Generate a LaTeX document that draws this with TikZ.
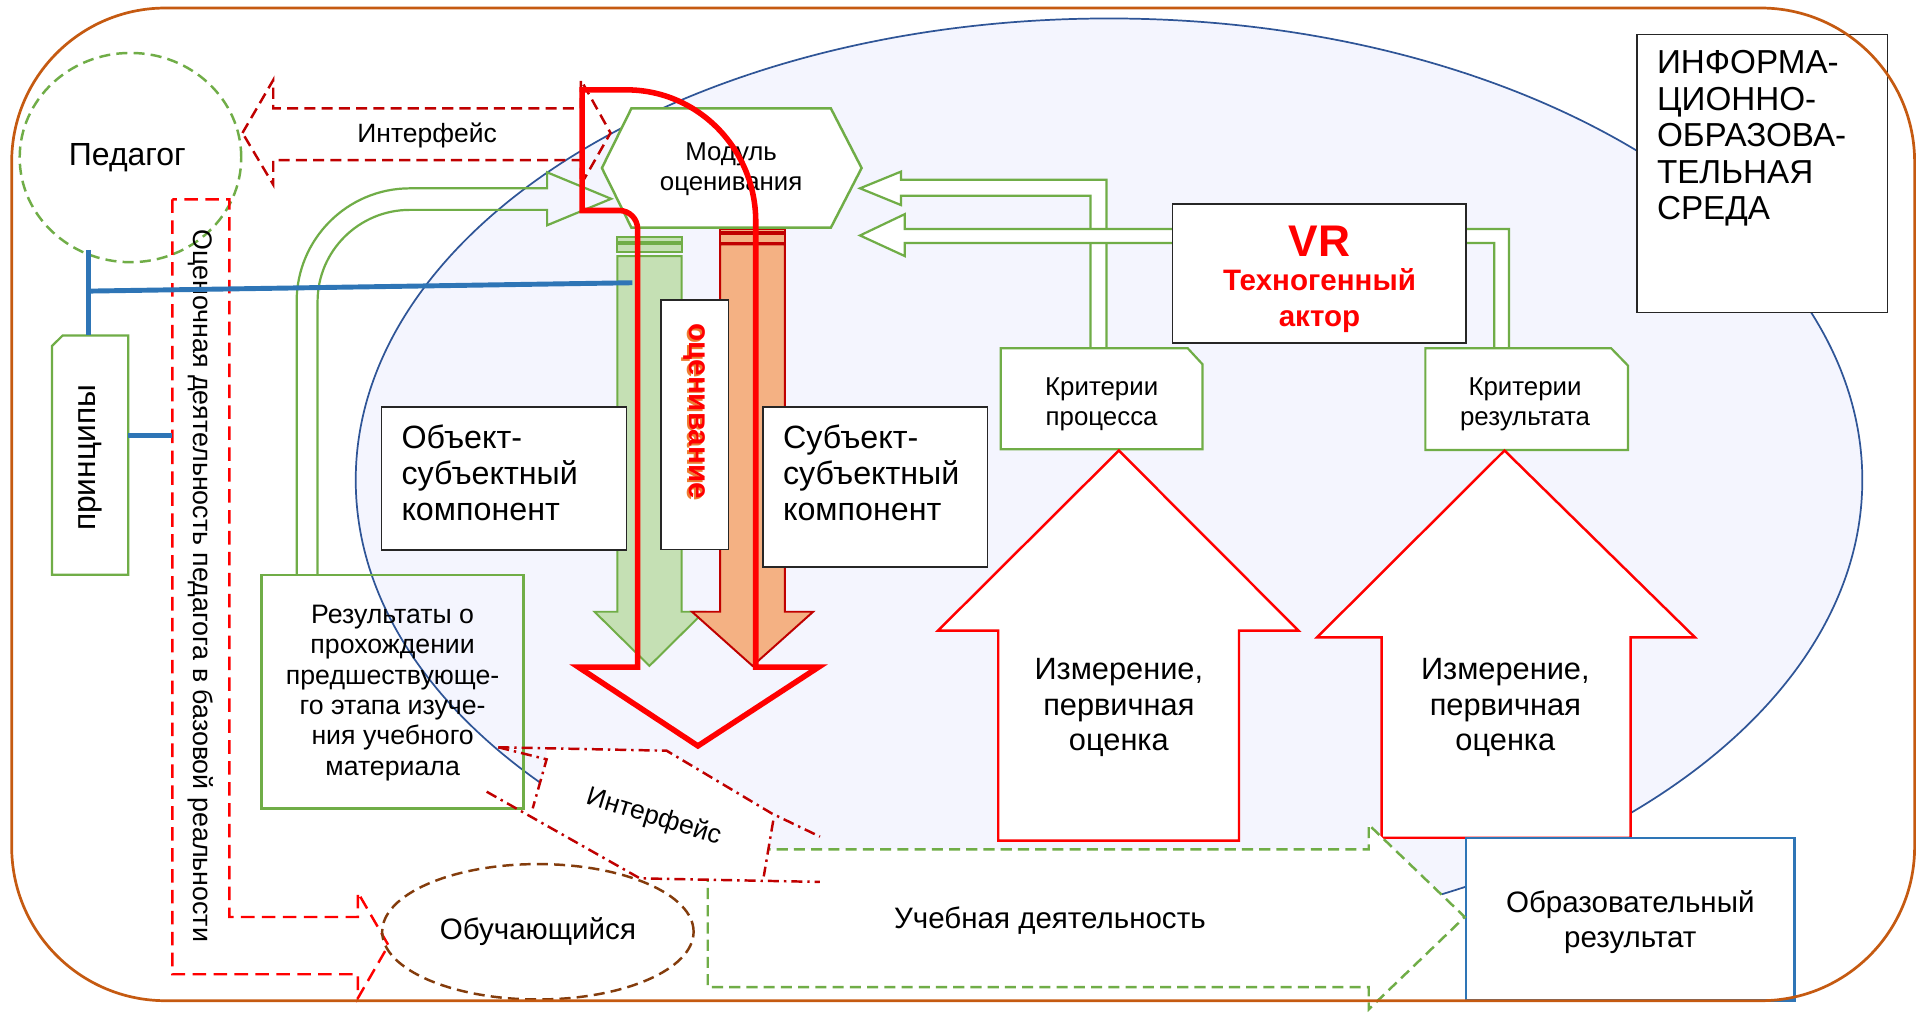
\documentclass[tikz,border=0pt]{standalone}
\usepackage{fontspec}
\setmainfont{Liberation Sans}
\usetikzlibrary{calc,shapes.geometric}
\definecolor{grn}{HTML}{70AD47}
\definecolor{lgrn}{HTML}{C5E0B4}
\definecolor{org}{HTML}{F4B183}
\definecolor{dred}{HTML}{C00000}
\definecolor{bred}{HTML}{FF0000}
\definecolor{bblue}{HTML}{2E75B6}
\definecolor{eblue}{HTML}{2F5597}
\definecolor{lav}{HTML}{F4F5FE}
\definecolor{brn}{HTML}{843C0C}
\definecolor{bord}{HTML}{C55A11}
\definecolor{shad}{HTML}{ED7D31}
\newcommand{\fz}[2]{\fontsize{#1}{#2}\selectfont}
\begin{document}
\begin{tikzpicture}[x=1pt,y=-1pt,line join=miter,
  every node/.style={inner sep=0pt},
  grnline/.style={draw=grn, line width=1.8pt},
  boxk/.style={draw=black!85, line width=1.3pt, fill=white},
  dsh/.style={dash pattern=on 9pt off 5pt},
  ddot/.style={dash pattern=on 9pt off 4pt on 2pt off 4pt},
  blueln/.style={draw=bblue, line width=4pt}]
\useasboundingbox (0,0) rectangle (1568,823);
\fill[white] (0,0) rectangle (1568,823);

% VR environment ellipse
\draw[fill=lav, draw=eblue, line width=1.4pt] (901,390) ellipse [x radius=612, y radius=375];

% Pedagog
\node[ellipse, draw=grn, line width=2pt, dsh, minimum width=180pt, minimum height=170pt] (ped) at (106,128) {};
\node[font=\fz{26}{30}] (pedt) at (103.5,128) {Педагог};

% top interface double arrow
\draw[draw=dred, line width=2pt, dsh] (197,108) -- (222,65) -- (222,88) -- (472,88) -- (472,65) -- (496,108) -- (472,150) -- (472,130) -- (222,130) -- (222,150) -- cycle;
\node[font=\fz{21.5}{25}] (if1) at (347,110) {Интерфейс};

% evaluation activity bent arrow
\draw[draw=bred, line width=2pt, dash pattern=on 11pt off 6pt] (140,162) -- (140,791.5) -- (290.7,791.5) -- (290.7,811) -- (315.6,768) -- (290.7,725) -- (290.7,745) -- (186.4,745) -- (186.4,162) -- cycle;
\node[rotate=-90, font=\fz{21.8}{25}] (ocd) at (163,476) {Оценочная деятельность педагога в базовой реальности};

% green bent arrow from results to module
\draw[grnline] (241,467) -- (241,245) .. controls (241,194.2) and (282.2,153) .. (333,153) -- (444.5,153) -- (444.5,140) -- (496.5,161.5) -- (444.5,183) -- (444.5,170.5) -- (333,170.5) .. controls (291.6,170.5) and (258,203.9) .. (258,245) -- (258,467);

% results box
\node[draw=grn, line width=2pt, minimum width=212.9pt, minimum height=190pt] (res) at (318.85,562) {};
\node[align=center, font=\fz{21.7}{24.6}] (rest) at (319,563) {Результаты о\\прохождении\\предшествующе-\\го этапа изуче-\\ния учебного\\материала};

% striped down arrows
\begin{scope}[draw=grn, fill=lgrn, line width=1.6pt]
\filldraw (501.5,192.3) rectangle (553.8,196.6);
\filldraw (501.5,198.5) rectangle (553.8,205);
\filldraw (501.5,208) -- (553.8,208) -- (553.8,497) -- (572,497) -- (527.6,541) -- (483,497) -- (501.5,497) -- cycle;
\end{scope}
\begin{scope}[draw=dred, fill=org, line width=1.6pt]
\filldraw (585,186.3) rectangle (637.7,188.5);
\filldraw (585,189.8) rectangle (637.7,197.2);
\filldraw (585,198.5) -- (637.7,198.5) -- (637.7,497) -- (660.6,497) -- (611.4,541) -- (562.2,497) -- (585,497) -- cycle;
\end{scope}

% component boxes
\node[boxk, minimum width=199pt, minimum height=116.3pt] (obj) at (409.5,388.65) {};
\node[anchor=west, align=left, font=\fz{26.2}{29}] (objt) at (326,384) {Объект-\\субъектный\\компонент};
\node[boxk, minimum width=182.5pt, minimum height=129.8pt] (subj) at (711.05,395.5) {};
\node[anchor=west, align=left, font=\fz{26.2}{29}] (subjt) at (636,384) {Субъект-\\субъектный\\компонент};

% ocenivanie box
\node[boxk, minimum width=55pt, minimum height=203pt] (ocb) at (564.5,345) {};
\node[rotate=-90, font=\fz{24}{28}\bfseries, text=shad] (ocens) at ($(564.5,334)+(-1.5,1.5)$) {оценивание};
\node[rotate=-90, font=\fz{24}{28}\bfseries, text=bred] (ocen) at (564.5,334) {оценивание};

% module hexagon
\draw[draw=grn, line width=2pt, fill=white] (513,88) -- (675,88) -- (700,136.5) -- (675,185) -- (513,185) -- (489,136.5) -- cycle;
\node[align=center, font=\fz{21}{25}] (mod) at (594,137.5) {Модуль\\оценивания};

% criteria arrows to module
\filldraw[grnline, fill=white] (899,283) -- (899,146) -- (732,146) -- (732,139.4) -- (698.7,153) -- (732,166.6) -- (732,159) -- (886,159) -- (886,283) -- cycle;
\filldraw[grnline, fill=white] (1226,283) -- (1226,186) -- (735,186) -- (735,174) -- (698.7,191.3) -- (735,208) -- (735,197.5) -- (1214,197.5) -- (1214,283) -- cycle;

% VR box
\node[boxk, minimum width=238.4pt, minimum height=113.2pt] (vr) at (1071.8,222.3) {};
\node[font=\fz{36}{40}\bfseries, text=bred] (vrt) at (1072,196) {VR};
\node[align=center, font=\fz{24}{29.5}\bfseries, text=bred] (vrt2) at (1072,244) {Техногенный\\актор};

% criteria boxes
\filldraw[grnline, fill=white] (813,283) -- (965,283) -- (977,296) -- (977,365) -- (813,365) -- cycle;
\node[align=center, font=\fz{21}{25}] (krp) at (895,328.5) {Критерии\\процесса};
\filldraw[grnline, fill=white] (1158,283) -- (1309,283) -- (1322.6,297) -- (1322.6,365.6) -- (1158,365.6) -- cycle;
\node[align=center, font=\fz{21}{25}] (krr) at (1239,328.5) {Критерии\\результата};

% info environment box
\node[boxk, minimum width=203.6pt, minimum height=225.9pt] (info) at (1431.8,140.85) {};
\node[anchor=west, align=left, font=\fz{27}{29.6}] (infot) at (1346,112.5) {ИНФОРМА-\\ЦИОННО-\\ОБРАЗОВА-\\ТЕЛЬНАЯ\\СРЕДА};

% measurement arrows
\filldraw[draw=bred, fill=white, line width=2pt] (909,366) -- (1055,512.4) -- (1006.6,512.4) -- (1006.6,683) -- (811,683) -- (811,512.4) -- (762,512.4) -- cycle;
\node[align=center, font=\fz{25}{29}] (m1) at (909,575) {Измерение,\\первичная\\оценка};
\filldraw[draw=bred, fill=white, line width=2pt] (1222.3,366) -- (1377,517.8) -- (1324.7,517.8) -- (1324.7,680.6) -- (1122.4,680.6) -- (1122.4,517.8) -- (1070,517.8) -- cycle;
\node[align=center, font=\fz{25}{29}] (m2) at (1223,575) {Измерение,\\первичная\\оценка};

% educational result
\node[draw=bblue, line width=2pt, fill=white, minimum width=267pt, minimum height=132.4pt] (obr) at (1324.5,746.8) {};
\node[align=center, font=\fz{24}{28}] (obrt) at (1324.5,749) {Образовательный\\результат};

% learning activity arrow
\filldraw[draw=grn, fill=white, line width=2pt, dsh] (575,690) -- (1112,690) -- (1112,670) -- (1190,745) -- (1112,820) -- (1112,802) -- (575,802) -- cycle;
\node[font=\fz{24}{28}] (ucheb) at (853,748) {Учебная деятельность};

% bottom interface
\fill[white] (444.1,608.3) -- (541.6,609.9) -- (626.9,660.8) -- (628.2,666.7) -- (620.5,712) -- (666,716.5) -- (519.9,713.6) -- (433,664.5) -- (432.8,656.7) -- (444.1,616.9) -- cycle;
\begin{scope}[draw=dred, line width=2pt, ddot]
\draw (404.8,607.1) -- (541.6,609.9) -- (626.9,660.8) -- (666.2,679.7);
\draw (404.8,607.1) -- (444.1,616.9) -- (432.8,656.7);
\draw (395.4,643.2) -- (519.9,713.6) -- (666,716.5);
\draw (628.2,666.7) -- (620.5,712);
\end{scope}
\node[rotate=-17, font=\fz{21.5}{25}] (if2) at (531,664) {Интерфейс};

% learner
\node[ellipse, draw=brn, line width=2pt, dsh, minimum width=253pt, minimum height=110pt] (obuch) at (437,757) {};
\node[font=\fz{24}{28}] (obucht) at (437,757) {Обучающийся};

% thick red evaluation arrow
\draw[draw=bred, line width=4.5pt] (473,171) -- (473,73) -- (509,73) .. controls (567,73) and (614,121) .. (614,180) -- (614,542) -- (665,542) -- (567,606) -- (470,542) -- (518,542) -- (518,186) .. controls (518,177.7) and (511.3,171) .. (503,171) -- cycle;

% principles box
\filldraw[grnline, fill=white] (42.3,281) -- (51,272.5) -- (104.2,272.5) -- (104.2,467) -- (42.3,467) -- cycle;
\node[rotate=90, font=\fz{25.8}{28}] (princ) at (73.2,372) {принципы};

% blue connectors
\coordinate (pedB) at (71.8,203);
\coordinate (prTop) at (71.8,272.5);
\coordinate (blueJ) at (71.8,236.5);
\coordinate (gArr) at (513.8,229.7);
\coordinate (prR) at (104.2,353.5);
\coordinate (ocL) at (140,353.5);
\draw[blueln] (pedB) -- (prTop);
\draw[blueln] (blueJ) -- (gArr);
\draw[blueln] (prR) -- (ocL);

% outer border
\draw[draw=bord, line width=2.2pt, rounded corners=125pt] (9.5,6.5) rectangle (1555.5,813);
\end{tikzpicture}
\end{document}
